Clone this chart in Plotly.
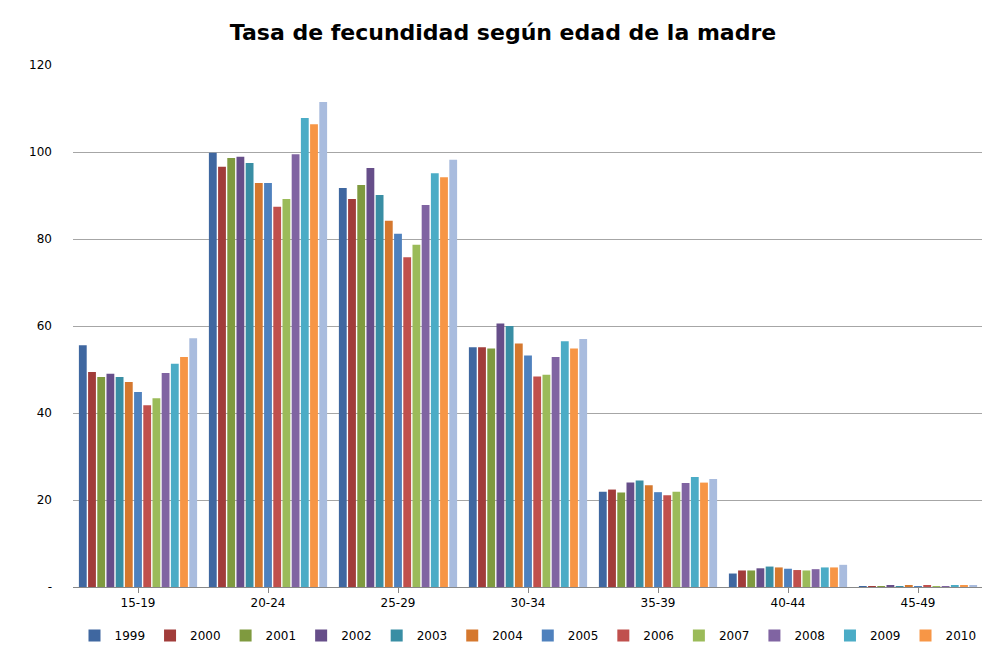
import plotly.graph_objects as go

categories = ["15-19", "20-24", "25-29", "30-34", "35-39", "40-44", "45-49"]
years = ["1999", "2000", "2001", "2002", "2003", "2004", "2005", "2006", "2007", "2008", "2009", "2010", "2011"]
v1999 = [55.6, 99.8, 91.7, 55.1, 21.9, 3.1, 0.2]
v2000 = [49.4, 96.6, 89.2, 55.1, 22.4, 3.8, 0.2]
v2001 = [48.3, 98.6, 92.4, 54.8, 21.7, 3.8, 0.2]
v2002 = [49.0, 98.9, 96.3, 60.6, 24.0, 4.3, 0.4]
v2003 = [48.3, 97.5, 90.1, 60.0, 24.5, 4.7, 0.2]
v2004 = [47.1, 92.9, 84.2, 56.0, 23.4, 4.5, 0.3]
v2005 = [44.8, 92.9, 81.2, 53.2, 21.8, 4.2, 0.2]
v2006 = [41.8, 87.4, 75.8, 48.4, 21.1, 3.9, 0.3]
v2007 = [43.4, 89.2, 78.7, 48.8, 21.9, 3.8, 0.2]
v2008 = [49.2, 99.5, 87.8, 52.9, 23.9, 4.1, 0.2]
v2009 = [51.3, 107.8, 95.1, 56.5, 25.3, 4.5, 0.3]
v2010 = [52.9, 106.4, 94.2, 54.8, 24.0, 4.5, 0.3]
v2011 = [57.2, 111.5, 98.2, 57.0, 24.8, 5.1, 0.3]
series = [v1999, v2000, v2001, v2002, v2003, v2004, v2005, v2006, v2007, v2008, v2009, v2010, v2011]
colors = ["#3F67A0", "#A13C3A", "#7F9A3F", "#664E89", "#398EA4", "#D5782E", "#4F81BD",
          "#C0504D", "#9BBB59", "#8064A2", "#4BACC6", "#F79646", "#A9BCDE"]

fig = go.Figure()
for y, vals, c in zip(years, series, colors):
    fig.add_trace(go.Bar(name=y, x=categories, y=vals, marker_color=c, marker_line_width=0))

fig.update_layout(
    width=990, height=647,
    paper_bgcolor="white", plot_bgcolor="white",
    font=dict(family="DejaVu Sans", size=12, color="black"),
    title=dict(text="<b>Tasa de fecundidad según edad de la madre</b>", x=0.5, y=0.975,
               xanchor="center", yanchor="top", font=dict(size=22, family="DejaVu Sans")),
    margin=dict(l=65, r=15, t=57, b=68, autoexpand=False),
    barmode="group", bargap=0.08, bargroupgap=0.15,
    legend=dict(orientation="h", x=0.5, xanchor="center", y=-0.065, yanchor="top",
                font=dict(size=12), itemwidth=30, itemsizing="constant"),
    xaxis=dict(showline=True, linecolor="#888", ticks="outside", ticklen=5, tickcolor="#888"),
    yaxis=dict(range=[0, 120], tickvals=[0, 20, 40, 60, 80, 100, 120],
               ticktext=["-", "20", "40", "60", "80", "100", "120"],
               showgrid=True, gridcolor="#A6A6A6", zeroline=False, showline=False,
               ticklabelstandoff=20),
)
fig.write_html("out.html")
